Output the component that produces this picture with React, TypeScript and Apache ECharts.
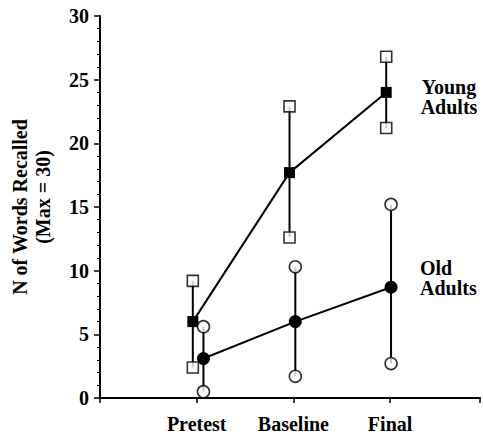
import React, { useEffect, useRef } from "react";
import * as echarts from "echarts";

const categories = ["Pretest", "Baseline", "Final"];
const youngMean = [6.0, 17.7, 24.0];
const youngUpper = [9.2, 22.9, 26.8];
const youngLower = [2.4, 12.6, 21.2];
const oldMean = [3.1, 6.0, 8.7];
const oldUpper = [5.6, 10.3, 15.2];
const oldLower = [0.5, 1.7, 2.7];
const yTicks = [0, 5, 10, 15, 20, 25, 30];

// horizontal nudges of each group's markers (style)
const youngShift = [-0.04, -0.04, -0.04];
const oldShift = [0.07, 0.02, 0.01];

const FONT = "Liberation Serif, Times New Roman, serif";

function App() {
  const ref = useRef<HTMLDivElement>(null);
  useEffect(() => {
    if (!ref.current) return;
    const chart = echarts.init(ref.current, null, { renderer: "svg" });
    const xs = (shift: number[]) => categories.map((_, i) => i + 1 + shift[i]);
    const yx = xs(youngShift);
    const ox = xs(oldShift);

    const errSeries = (x: number[], lo: number[], hi: number[]) => ({
      type: "custom",
      z: 1,
      silent: true,
      data: x.map((v, i) => [v, lo[i], hi[i]]),
      renderItem: (params: any, api: any) => {
        const a = api.coord([api.value(0), api.value(1)]);
        const b = api.coord([api.value(0), api.value(2)]);
        return {
          type: "line",
          shape: { x1: a[0], y1: a[1], x2: b[0], y2: b[1] },
          style: { stroke: "#000", lineWidth: 2 },
        };
      },
    });

    const endSeries = (x: number[], lo: number[], hi: number[], symbol: string, size: number) => ({
      type: "scatter",
      z: 3,
      symbol,
      symbolSize: size,
      itemStyle: { color: "#fff", borderColor: "#000", borderWidth: 1.6 },
      data: [...x.map((v, i) => [v, lo[i]]), ...x.map((v, i) => [v, hi[i]])],
    });

    const meanSeries = (x: number[], m: number[], symbol: string, size: number) => ({
      type: "line",
      z: 2,
      symbol,
      symbolSize: size,
      showAllSymbol: true,
      itemStyle: { color: "#000" },
      lineStyle: { color: "#000", width: 2 },
      data: x.map((v, i) => [v, m[i]]),
    });

    chart.setOption({
      animation: false,
      backgroundColor: "#fff",
      grid: { left: 100, right: 0, top: 16, bottom: 39, containLabel: false },
      xAxis: {
        type: "value",
        min: 0,
        max: 3.93,
        interval: 1,
        axisLine: { show: true, onZero: false, lineStyle: { color: "#000", width: 2 } },
        axisTick: { show: true, length: 5, lineStyle: { color: "#000", width: 1.5 } },
        splitLine: { show: false },
        axisLabel: {
          margin: 16,
          color: "#000",
          fontFamily: FONT,
          fontWeight: "bold",
          fontSize: 20,
          formatter: (v: number) => (Number.isInteger(v) && v >= 1 && v <= categories.length ? categories[v - 1] : ""),
        },
      },
      yAxis: {
        type: "value",
        min: yTicks[0],
        max: yTicks[yTicks.length - 1],
        interval: 5,
        axisLine: { show: true, lineStyle: { color: "#000", width: 2 } },
        axisTick: { show: true, length: 6, lineStyle: { color: "#000", width: 1.5 } },
        minorTick: { show: true, splitNumber: 5, length: 3, lineStyle: { color: "#000", width: 1 } },
        splitLine: { show: false },
        axisLabel: {
          margin: 11,
          color: "#000",
          fontFamily: FONT,
          fontWeight: "bold",
          fontSize: 20,
        },
      },
      graphic: [
        {
          type: "text",
          x: 20,
          y: 207,
          rotation: Math.PI / 2,
          style: { text: "N of Words Recalled", font: `bold 20px ${FONT}`, fill: "#000", align: "center", verticalAlign: "middle" },
        },
        {
          type: "text",
          x: 43,
          y: 197,
          rotation: Math.PI / 2,
          style: { text: "(Max = 30)", font: `bold 20px ${FONT}`, fill: "#000", align: "center", verticalAlign: "middle" },
        },
        {
          type: "text",
          x: 449,
          y: 87,
          style: { text: "Young", font: `bold 20px ${FONT}`, fill: "#000", align: "center", verticalAlign: "middle" },
        },
        {
          type: "text",
          x: 449,
          y: 107,
          style: { text: "Adults", font: `bold 20px ${FONT}`, fill: "#000", align: "center", verticalAlign: "middle" },
        },
        {
          type: "text",
          x: 420,
          y: 268,
          style: { text: "Old", font: `bold 20px ${FONT}`, fill: "#000", align: "left", verticalAlign: "middle" },
        },
        {
          type: "text",
          x: 420,
          y: 288,
          style: { text: "Adults", font: `bold 20px ${FONT}`, fill: "#000", align: "left", verticalAlign: "middle" },
        },
      ],
      series: [
        errSeries(yx, youngLower, youngUpper),
        errSeries(ox, oldLower, oldUpper),
        meanSeries(yx, youngMean, "rect", 11),
        meanSeries(ox, oldMean, "circle", 13),
        endSeries(yx, youngLower, youngUpper, "rect", 11),
        endSeries(ox, oldLower, oldUpper, "circle", 12),
      ],
    });
    return () => chart.dispose();
  }, []);
  return (
    <div
      ref={ref}
      style={{ position: "fixed", left: 0, top: 0, width: 483, height: 437, background: "#fff" }}
    />
  );
}

export default App;
